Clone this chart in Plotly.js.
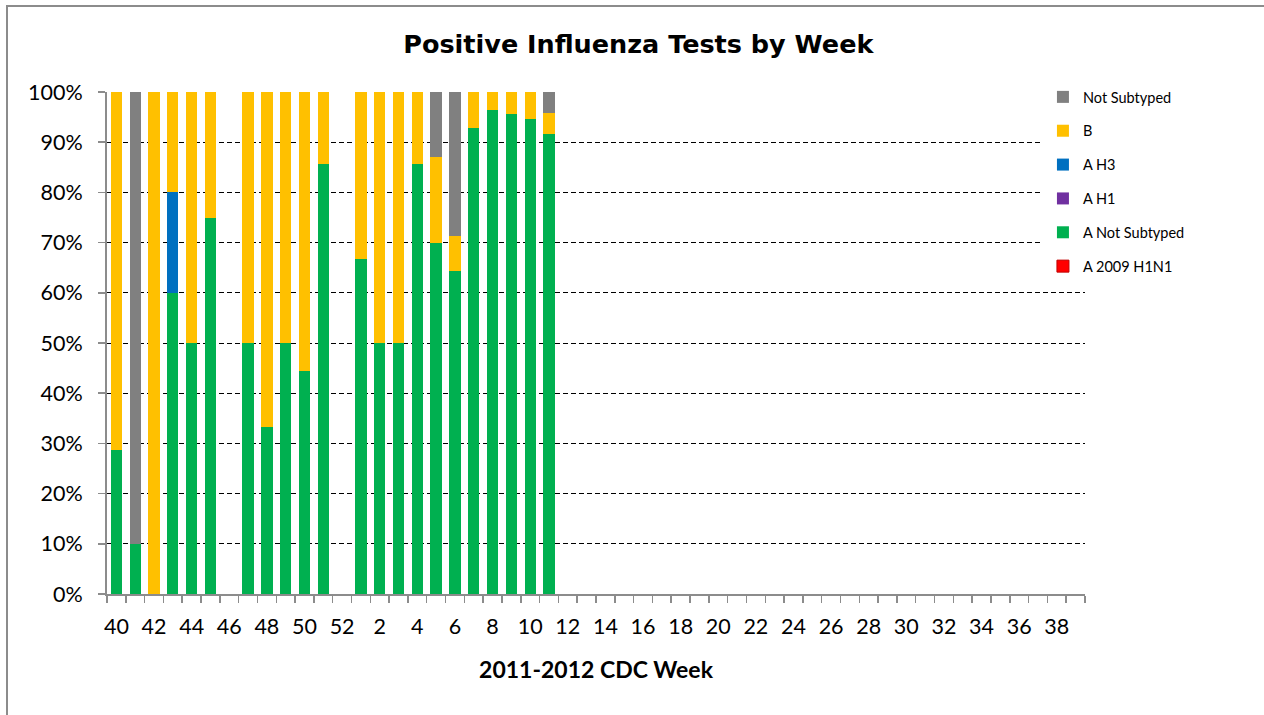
<!DOCTYPE html>
<html>
<head>
<meta charset="utf-8">
<script src="https://cdn.plot.ly/plotly-3.0.1.min.js"></script>
<style>
html,body{margin:0;padding:0;background:#fff;overflow:hidden;}
#frame{position:absolute;left:6px;top:5px;width:1400px;height:900px;border-left:2px solid #8c8c8c;border-top:2px solid #8c8c8c;box-sizing:border-box;}
#chart{position:absolute;left:0;top:0;width:1264px;height:715px;}
</style>
</head>
<body>
<div id="frame"></div>
<div id="chart"></div>
<script>
// CDC weeks of the 2011-2012 season
const weeks = ["40","41","42","43","44","45","46","47","48","49","50","51","52",
  "1","2","3","4","5","6","7","8","9","10","11","12","13","14","15","16","17","18","19","20",
  "21","22","23","24","25","26","27","28","29","30","31","32","33","34","35","36","37","38","39"];

// percent of positive tests per week (null = no data)
const a2009H1N1 = [0,0,0,0,0,0,null,0,0,0,0,0,null,0,0,0,0,0,0,0,0,0,0,0];
const aNotSubtyped = [28.6,10,0,60,50,75,null,50,33.3,50,44.4,85.7,null,66.7,50,50,85.7,70,64.3,92.9,96.4,95.7,94.6,91.6];
const aH1 = [0,0,0,0,0,0,null,0,0,0,0,0,null,0,0,0,0,0,0,0,0,0,0,0];
const aH3 = [0,0,0,20,0,0,null,0,0,0,0,0,null,0,0,0,0,0,0,0,0,0,0,0];
const fluB = [71.4,0,100,20,50,25,null,50,66.7,50,55.6,14.3,null,33.3,50,50,14.3,17,7.1,7.1,3.6,4.3,5.4,4.2];
const notSubtyped = [0,90,0,0,0,0,null,0,0,0,0,0,null,0,0,0,0,13,28.6,0,0,0,0,4.2];

const tickText = weeks.map((w,i)=> i%2===0 ? w : "");

function pad(arr){ return weeks.map((w,i)=> i<arr.length ? arr[i] : null); }

const series = [
  {name:"A 2009 H1N1", vals:a2009H1N1, color:"#FF0000", line:"#C00000"},
  {name:"A Not Subtyped", vals:aNotSubtyped, color:"#00B050"},
  {name:"A H1", vals:aH1, color:"#7030A0"},
  {name:"A H3", vals:aH3, color:"#0070C0"},
  {name:"B", vals:fluB, color:"#FFC000"},
  {name:"Not Subtyped", vals:notSubtyped, color:"#808080"}
];

const traces = series.map((s,i)=>({
  type:"bar",
  name:s.name,
  x:weeks,
  y:pad(s.vals),
  legendgroup:s.name,
  legendrank:series.length - i,
  marker:{color:s.color, line:{color:s.line||s.color, width:s.line?1:0}},
  hoverinfo:"x+y+name"
}));

const layout = {
  width:1264, height:715,
  paper_bgcolor:"rgba(0,0,0,0)",
  plot_bgcolor:"rgba(0,0,0,0)",
  margin:{l:107, r:179, t:92, b:121},
  barmode:"stack",
  bargap:0.4,
  font:{family:"Lato, 'Liberation Sans', sans-serif", color:"#000"},
  title:{text:"Positive Influenza Tests by Week", font:{family:"'DejaVu Sans', Verdana, sans-serif", size:25.5, weight:"bold", color:"#000"},
         xref:"container", x:0.505, xanchor:"center", yref:"container", y:0.938, yanchor:"middle"},
  xaxis:{
    type:"category",
    tickmode:"array", tickvals:weeks, ticktext:tickText,
    tickson:"boundaries", ticks:"outside", ticklen:7, tickwidth:1.5, tickcolor:"#8c8c8c",
    showline:true, linecolor:"#8c8c8c", linewidth:2,
    showgrid:false, zeroline:false,
    tickangle:0,
    tickfont:{size:21.5, color:"#000"},
    ticklabelstandoff:12,
    title:{text:"2011-2012 CDC Week", font:{size:23, weight:"bold", color:"#000"}, standoff:24}
  },
  yaxis:{
    range:[0,100], dtick:10, ticksuffix:"%",
    ticks:"outside", ticklen:7, tickwidth:1.5, tickcolor:"#8c8c8c",
    showline:true, linecolor:"#8c8c8c", linewidth:2,
    showgrid:true, gridcolor:"#000", gridwidth:1, griddash:"5px,3px",
    zeroline:false,
    tickfont:{size:21.5, color:"#000"},
    ticklabelstandoff:11
  },
  legend:{
    x:0.957, xanchor:"left", y:1.022, yanchor:"top",
    bgcolor:"#ffffff", borderwidth:0,
    traceorder:"grouped", tracegroupgap:12,
    font:{size:14.5, color:"#000"},
    itemclick:false
  },
  showlegend:true
};

Plotly.newPlot("chart", traces, layout, {displayModeBar:false, staticPlot:true});
</script>
</body>
</html>
